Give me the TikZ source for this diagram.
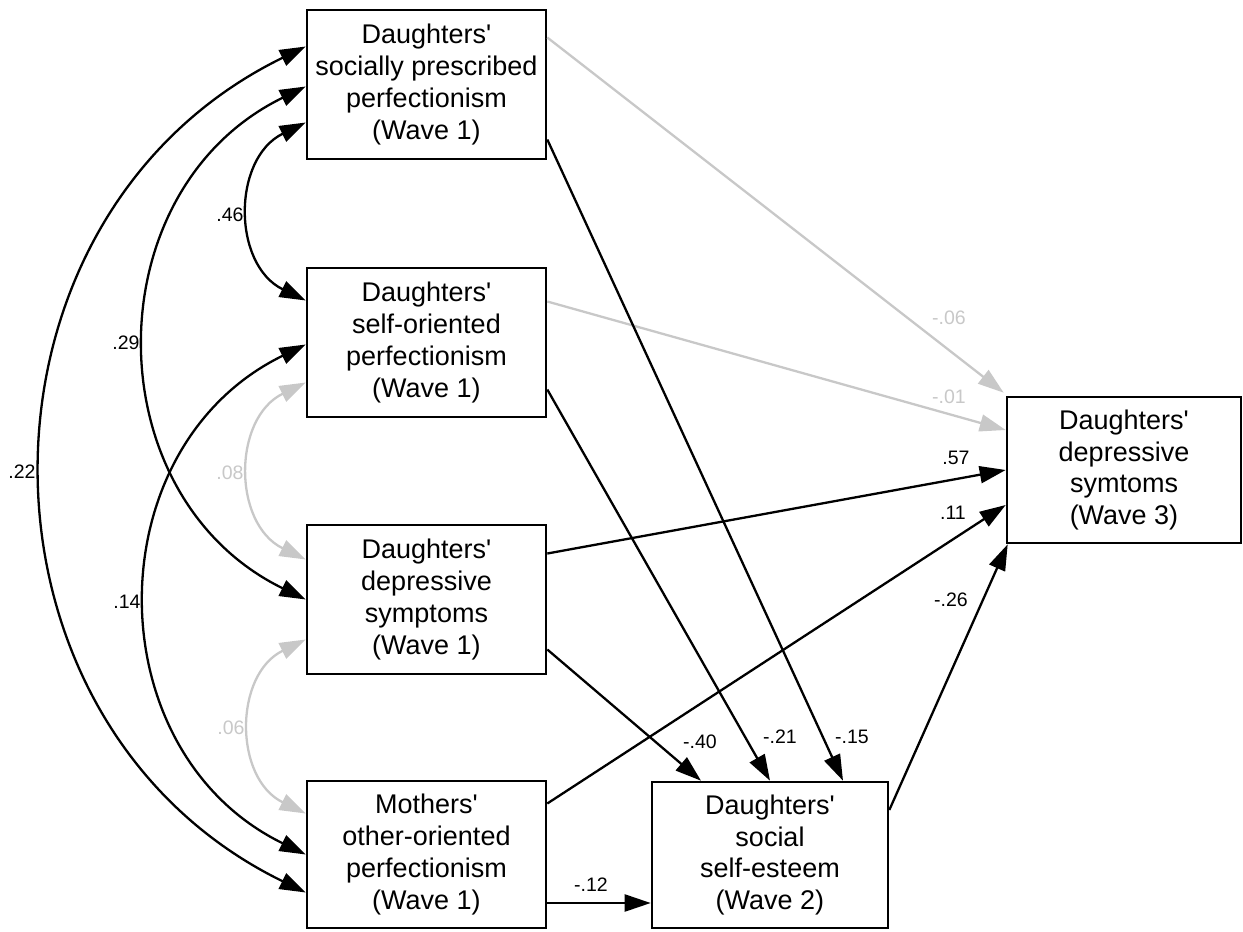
\documentclass[tikz,border=0pt]{standalone}
\usepackage{fontspec}
\setmainfont{Liberation Sans}
\usetikzlibrary{arrows.meta}

\definecolor{nsgray}{RGB}{200,200,200}
\newcommand{\apos}{\textquotesingle}

\tikzset{
  var/.style={draw, line width=2.6pt, rectangle, align=center, inner sep=0pt,
    minimum width=239pt, minimum height=149pt,
    font=\fontsize{27}{31.7}\selectfont},
  effect/.style={line width=2.3pt, -{Triangle[length=26pt,width=17pt]}},
  cov/.style={line width=2.3pt,
    {Triangle[length=26pt,width=17pt]}-{Triangle[length=26pt,width=17pt]},
    bend right=64, looseness=1.18},
  ns/.style={draw=nsgray, color=nsgray},
  coef/.style={font=\fontsize{19.5}{19.5}\selectfont, inner sep=0pt},
}

\begin{document}
\begin{tikzpicture}[x=1pt,y=1pt]
  \useasboundingbox (0,0) rectangle (1243,-932);

  % variables
  \node[var] (spp1) at (426.5,-84.5) {Daughters\apos\\socially prescribed\\perfectionism\\(Wave 1)};
  \node[var] (sop1) at (426.5,-342.5) {Daughters\apos\\self-oriented\\perfectionism\\(Wave 1)};
  \node[var] (dep1) at (426.5,-599.5) {Daughters\apos\\depressive\\symptoms\\(Wave 1)};
  \node[var, minimum height=147pt] (oop1) at (426.5,-854.5) {Mothers\apos\\other-oriented\\perfectionism\\(Wave 1)};
  \node[var, minimum width=236pt, minimum height=146pt] (sse2) at (770,-855) {Daughters\apos\\social\\self-esteem\\(Wave 2)};
  \node[var, minimum width=234pt, minimum height=146pt] (dep3) at (1124,-470) {Daughters\apos\\depressive\\symtoms\\(Wave 3)};

  % correlations
  \draw[cov] ([yshift=38pt]spp1.west) to ([yshift=-38pt]oop1.west);
  \draw[cov] ([yshift=-2pt]spp1.west) to (dep1.west);
  \draw[cov] ([yshift=-38pt]spp1.west) to ([yshift=42pt]sop1.west);
  \draw[cov] ([yshift=-2pt]sop1.west) to (oop1.west);
  \draw[cov, ns] ([yshift=-40pt]sop1.west) to ([yshift=40pt]dep1.west);
  \draw[cov, ns] ([yshift=-40pt]dep1.west) to ([yshift=41pt]oop1.west);

  \node[coef] (r46) at (230,-215) {.46};
  \node[coef] (r29) at (126,-343) {.29};
  \node[coef] (r22) at (22,-472) {.22};
  \node[coef] (r14) at (127,-602) {.14};
  \node[coef, nsgray] (r08) at (230,-473) {.08};
  \node[coef, nsgray] (r06) at (231,-728) {.06};

  % paths to wave 3
  \draw[effect, ns] ([yshift=47pt]spp1.east) -- ([xshift=-2pt,yshift=3pt]dep3.north west);
  \draw[effect, ns] ([yshift=41pt]sop1.east) -- ([yshift=40pt]dep3.west);
  \draw[effect] ([yshift=46pt]dep1.east) -- (dep3.west);
  \draw[effect] ([yshift=51pt]oop1.east) -- ([yshift=-35pt]dep3.west);
  \draw[effect] ([yshift=45pt]sse2.east) -- ([xshift=2pt]dep3.south west);

  % paths to wave 2
  \draw[effect] ([yshift=-55pt]spp1.east) -- ([xshift=73pt]sse2.north);
  \draw[effect] ([yshift=-47pt]sop1.east) -- (sse2.north);
  \draw[effect] ([yshift=-50pt]dep1.east) -- ([xshift=-69pt]sse2.north);
  \draw[effect] ([yshift=-48.5pt]oop1.east) -- ([yshift=-48pt]sse2.west);

  \node[coef, nsgray] (b06) at (949,-318) {-.06};
  \node[coef, nsgray] (b01) at (949,-397) {-.01};
  \node[coef] (b57) at (956,-458) {.57};
  \node[coef] (b11) at (953,-513) {.11};
  \node[coef] (b26) at (951,-600) {-.26};
  \node[coef] (b40) at (700,-742) {-.40};
  \node[coef] (b21) at (780,-737) {-.21};
  \node[coef] (b15) at (852,-737) {-.15};
  \node[coef] (b12) at (591,-885) {-.12};
\end{tikzpicture}
\end{document}
